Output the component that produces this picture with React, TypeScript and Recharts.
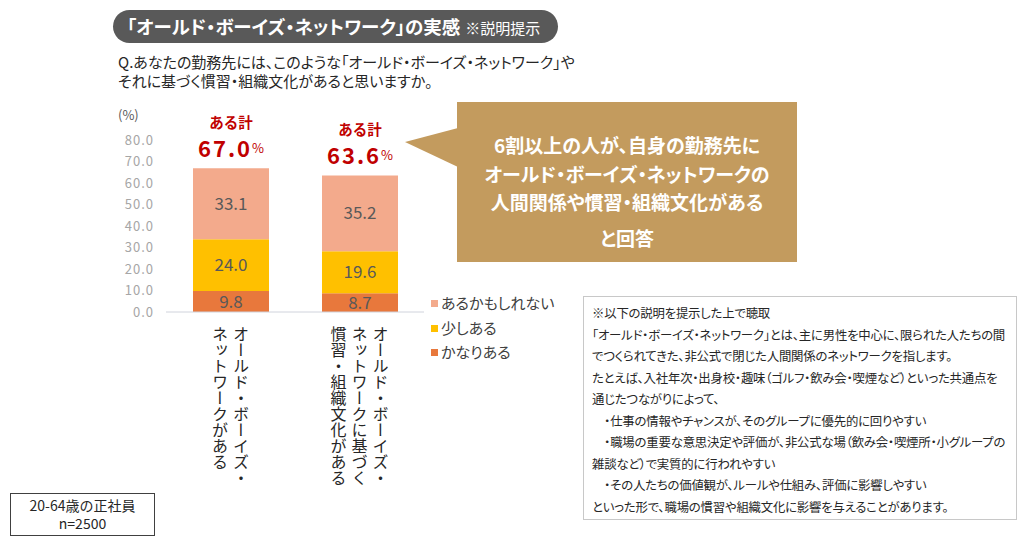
import React from 'react';
import { BarChart, Bar, XAxis, YAxis, LabelList } from 'recharts';

const categories = [
  'オールド・ボーイズ・ネットワークがある',
  'オールド・ボーイズ・ネットワークに基づく慣習・組織文化がある',
];
const categoryLines = [
  ['オールド・ボーイズ・', 'ネットワークがある'],
  ['オールド・ボーイズ・', 'ネットワークに基づく', '慣習・組織文化がある'],
];
const kanariAru = [9.8, 8.7];
const sukoshiAru = [24.0, 19.6];
const aruKamo = [33.1, 35.2];
const totals = [67.0, 63.6];
const seriesNames = ['かなりある', '少しある', 'あるかもしれない'];
const seriesColors = ['#E8783C', '#FFC000', '#F3AA8C'];
const yTicks = [0, 10, 20, 30, 40, 50, 60, 70, 80];

const titleText = '「オールド・ボーイズ・ネットワーク」の実感';
const titleNote = '※説明提示';
const questionLines = [
  'Q.あなたの勤務先には、このような「オールド・ボーイズ・ネットワーク」や',
  'それに基づく慣習・組織文化があると思いますか。',
];
const calloutLines = [
  '6割以上の人が、自身の勤務先に',
  'オールド・ボーイズ・ネットワークの',
  '人間関係や慣習・組織文化がある',
  'と回答',
];
const explanationLines = [
  '※以下の説明を提示した上で聴取',
  '「オールド・ボーイズ・ネットワーク」とは、主に男性を中心に、限られた人たちの間',
  'でつくられてきた、非公式で閉じた人間関係のネットワークを指します。',
  'たとえば、入社年次・出身校・趣味（ゴルフ・飲み会・喫煙など）といった共通点を',
  '通じたつながりによって、',
  '　・仕事の情報やチャンスが、そのグループに優先的に回りやすい',
  '　・職場の重要な意思決定や評価が、非公式な場（飲み会・喫煙所・小グループの',
  '雑談など）で実質的に行われやすい',
  '　・その人たちの価値観が、ルールや仕組み、評価に影響しやすい',
  'といった形で、職場の慣習や組織文化に影響を与えることがあります。',
];
const sampleLines = ['20-64歳の正社員', 'n=2500'];

const data = categories.map((name, i) => ({
  name,
  kanari: kanariAru[i],
  sukoshi: sukoshiAru[i],
  kamo: aruKamo[i],
  total: totals[i],
}));

const FONT = '"Noto Sans CJK JP", "Noto Sans", sans-serif';
const palt: React.CSSProperties = { fontFeatureSettings: '"palt"' };

const VerticalTick = (props: any) => {
  const { x, y, index } = props;
  const lines = categoryLines[index] || [];
  const n = lines.length;
  const spacing = 21;
  return (
    <g>
      {lines.map((line, i) => (
        <text
          key={i}
          x={x + ((n - 1) / 2) * spacing - i * spacing}
          y={y + 14}
          fill="#262626"
          fontSize={16}
          fontFamily={FONT}
          style={{ writingMode: 'vertical-rl' as any }}
        >
          {line}
        </text>
      ))}
    </g>
  );
};

const TotalLabel = (props: any) => {
  const { x, y, width, value } = props;
  const cx = x + width / 2;
  return (
    <g>
      <text x={cx} y={y - 47} textAnchor="middle" dominantBaseline="central" fill="#C00000" fontSize={14.5} fontWeight="bold" fontFamily={FONT}>
        ある計
      </text>
      <text x={cx} y={y - 21} textAnchor="middle" dominantBaseline="central" fill="#C00000" fontFamily={FONT}>
        <tspan fontSize={22} fontWeight="bold" letterSpacing={2}>{Number(value).toFixed(1)}</tspan>
        <tspan fontSize={13}>%</tspan>
      </text>
    </g>
  );
};

export default function App() {
  return (
    <div style={{ position: 'absolute', left: 0, top: 0, width: 1030, height: 550, background: '#fff', fontFamily: FONT, overflow: 'hidden' }}>
      {/* Title pill */}
      <div style={{ position: 'absolute', left: 113, top: 10, width: 445, height: 33, borderRadius: 17, background: '#595959', color: '#fff', boxSizing: 'border-box', paddingLeft: 14, lineHeight: '33px', whiteSpace: 'nowrap' }}>
        <span style={{ fontSize: 18.5, fontWeight: 'bold', ...palt }}>{titleText}</span>
        <span style={{ fontSize: 15, marginLeft: 5, ...palt }}>{titleNote}</span>
      </div>
      {/* Question */}
      <div style={{ position: 'absolute', left: 118, top: 52, fontSize: 15, lineHeight: '19px', color: '#262626', whiteSpace: 'nowrap', ...palt }}>
        {questionLines.map((l, i) => <div key={i}>{l}</div>)}
      </div>

      {/* Callout */}
      <svg width={1030} height={550} style={{ position: 'absolute', left: 0, top: 0 }}>
        <polygon points="405,142 458,128 458,167" fill="#C39B5E" />
        <rect x={457} y={102} width={340} height={160} fill="#C39B5E" />
      </svg>
      {calloutLines.map((l, i) => (
        <div key={i} style={{ position: 'absolute', left: 457, width: 340, top: [145, 174, 202, 238][i] - 12, height: 24, lineHeight: '24px', textAlign: 'center', color: '#fff', fontSize: 19, fontWeight: 'bold', whiteSpace: 'nowrap', ...palt }}>
          {l}
        </div>
      ))}

      {/* Chart */}
      <div style={{ position: 'absolute', left: 0, top: 0 }}>
        <BarChart width={1030} height={550} data={data} margin={{ top: 140, right: 606, bottom: 208, left: 106 }}>
          <XAxis dataKey="name" height={30} axisLine={{ stroke: '#D0D3DC' }} tickLine={false} tickSize={0} tickMargin={0} interval={0} tick={<VerticalTick />} />
          <YAxis width={60} domain={[0, 80]} ticks={yTicks} interval={0} axisLine={false} tickLine={false} tickSize={0} tickMargin={12}
            tickFormatter={(v: number) => v.toFixed(1)}
            tick={{ fill: '#A6A6A6', fontSize: 13, letterSpacing: 1, fontFamily: FONT }} />
          <Bar dataKey="kanari" stackId="a" fill={seriesColors[0]} barSize={76} isAnimationActive={false}>
            <LabelList dataKey="kanari" position="center" fill="#595959" fontSize={17} fontFamily={FONT} formatter={(v: any) => Number(v).toFixed(1)} />
          </Bar>
          <Bar dataKey="sukoshi" stackId="a" fill={seriesColors[1]} barSize={76} isAnimationActive={false}>
            <LabelList dataKey="sukoshi" position="center" fill="#595959" fontSize={17} fontFamily={FONT} formatter={(v: any) => Number(v).toFixed(1)} />
          </Bar>
          <Bar dataKey="kamo" stackId="a" fill={seriesColors[2]} barSize={76} isAnimationActive={false}>
            <LabelList dataKey="kamo" position="center" fill="#595959" fontSize={17} fontFamily={FONT} formatter={(v: any) => Number(v).toFixed(1)} />
            <LabelList dataKey="total" content={<TotalLabel />} />
          </Bar>
        </BarChart>
      </div>

      {/* (%) unit */}
      <div style={{ position: 'absolute', left: 118, top: 106, fontSize: 13, lineHeight: '18px', color: '#595959' }}>(%)</div>

      {/* Legend */}
      {[2, 1, 0].map((si, i) => (
        <div key={si} style={{ position: 'absolute', left: 431, top: [303, 328, 352][i] - 10, height: 20, lineHeight: '20px', fontSize: 15, color: '#404040', whiteSpace: 'nowrap', display: 'flex', alignItems: 'center', ...palt }}>
          <span style={{ display: 'inline-block', width: 7, height: 7, background: seriesColors[si], marginRight: 3 }} />
          {seriesNames[si]}
        </div>
      ))}

      {/* Explanation box */}
      <div style={{ position: 'absolute', left: 583, top: 296, width: 434, height: 224, border: '1px solid #C8C8C8', boxSizing: 'border-box', paddingTop: 6, paddingLeft: 8, fontSize: 12.4, letterSpacing: -0.2, lineHeight: '21.5px', color: '#262626', whiteSpace: 'nowrap', ...palt }}>
        {explanationLines.map((l, i) => <div key={i}>{l}</div>)}
      </div>

      {/* Sample box */}
      <div style={{ position: 'absolute', left: 10, top: 493, width: 145, height: 43, border: '1px solid #404040', boxSizing: 'border-box', textAlign: 'center', fontSize: 14, lineHeight: '18px', paddingTop: 2, color: '#262626' }}>
        {sampleLines.map((l, i) => <div key={i}>{l}</div>)}
      </div>
    </div>
  );
}
